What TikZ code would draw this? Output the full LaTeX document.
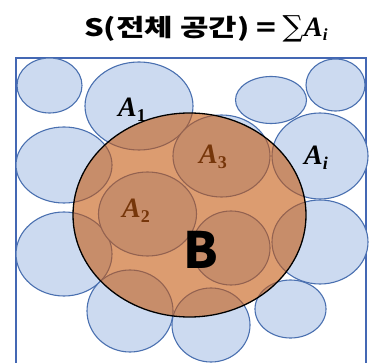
\documentclass[tikz,border=0pt]{standalone}
\usepackage{fontspec}
\usetikzlibrary{shapes.geometric}
\newfontfamily\krfont{Noto Sans CJK KR}
\newfontfamily\serfont{Liberation Serif}
\newfontfamily\symfont{DejaVu Serif}
\definecolor{ellfill}{RGB}{204,218,240}
\definecolor{ellline}{RGB}{74,112,176}
\definecolor{framecol}{RGB}{68,104,180}
\definecolor{bfill}{RGB}{197,90,17}
\newcommand{\alab}[1]{{\serfont\bfseries\itshape A}\raisebox{-5pt}{\fontsize{18}{18}\selectfont\serfont\bfseries #1}}
\begin{document}
\begin{tikzpicture}[x=1pt,y=-1pt,
  ell/.style={ellipse,inner sep=0pt,fill=ellfill,draw=ellline,line width=1.1pt},
  lab/.style={anchor=base west,inner sep=0pt,font=\fontsize{28}{28}\selectfont},
  bbig/.style={ellipse,inner sep=0pt,fill=bfill,fill opacity=0.6,draw=black,draw opacity=1,line width=1.3pt}]
\useasboundingbox (0,0) rectangle (369,363);
\begin{scope}
\clip (0,0) rectangle (369,363);
\draw[framecol,line width=1.2pt] (16,58) rectangle (366,390);
% blue ellipses
\node[ell,minimum width=65pt,minimum height=55pt] (e1) at (49.5,85.5) {};
\node[ell,minimum width=108pt,minimum height=88pt] (e2) at (139,106) {};
\node[ell,minimum width=71pt,minimum height=47pt] (e3) at (271,100) {};
\node[ell,minimum width=59pt,minimum height=52pt] (e4) at (335.5,85) {};
\node[ell,minimum width=96pt,minimum height=86pt] (e5) at (320,156) {};
\node[ell,minimum width=96pt,minimum height=76pt] (e6) at (64,165) {};
\node[ell,minimum width=96pt,minimum height=84pt] (e7) at (64,254) {};
\node[ell,minimum width=86pt,minimum height=82pt] (e8) at (130,311) {};
\node[ell,minimum width=78pt,minimum height=74pt] (e9) at (211,325) {};
\node[ell,minimum width=71pt,minimum height=58pt] (e10) at (290.5,309) {};
\node[ell,minimum width=96pt,minimum height=84pt] (e11) at (320,242) {};
\node[ell,minimum width=97pt,minimum height=82pt] (e12) at (221.5,156) {};
\node[ell,minimum width=98pt,minimum height=84pt] (e13) at (147.5,214) {};
\node[ell,minimum width=78pt,minimum height=74pt] (e14) at (231,248) {};
% labels
\node[lab] (l1) at (118,117) {\alab{1}};
\node[lab] (l3) at (199,164) {\alab{3}};
\node[lab] (l2) at (122,218) {\alab{2}};
\node[lab] (li) at (304,165) {{\serfont\bfseries\itshape A}\raisebox{-5pt}{\fontsize{18}{18}\selectfont\serfont\bfseries\itshape i}};
% B
\node[bbig,minimum width=233pt,minimum height=204pt] (B) at (189.5,215) {};
\node[anchor=base,inner sep=0pt,font=\krfont\bfseries\fontsize{50}{50}\selectfont] (bl) at (200.5,268) {B};
\end{scope}
\node[anchor=base west,inner sep=0pt,font=\fontsize{24}{24}\selectfont] (title) at (84,37)
  {\scalebox{1.29}[1]{\krfont\bfseries S(전체 공간)}\hspace{7pt}\scalebox{1.35}[1]{\krfont\bfseries =}\hspace{6pt}{\symfont\fontsize{29}{29}\selectfont ∑}\hspace{1pt}{\fontsize{28}{28}\selectfont\serfont\bfseries\itshape A}\raisebox{-4pt}{\fontsize{17}{17}\selectfont\serfont\bfseries\itshape i}};
\end{tikzpicture}
\end{document}
